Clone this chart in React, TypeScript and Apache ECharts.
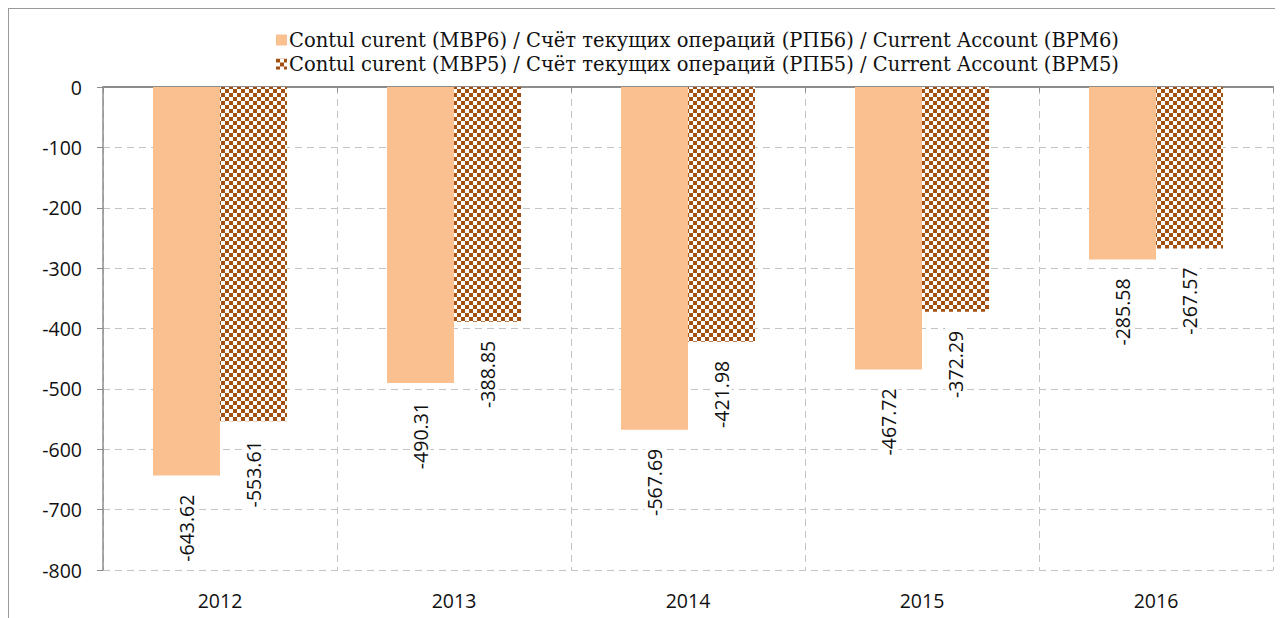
import React, { useEffect, useRef } from "react";
import * as echarts from "echarts";

const years = ["2012", "2013", "2014", "2015", "2016"];
const bpm6 = [-643.62, -490.31, -567.69, -467.72, -285.58];
const bpm5 = [-553.61, -388.85, -421.98, -372.29, -267.57];
const seriesNames = [
  "Contul curent (MBP6) / Счёт текущих операций (РПБ6) / Current Account (BPM6)",
  "Contul curent (MBP5) / Счёт текущих операций (РПБ5) / Current Account (BPM5)",
];
const yMin = -800;
const yMax = 0;
const yStep = 100;

const SANS = "'Open Sans', sans-serif";
const SERIF = "'DejaVu Serif', serif";

function makeChecker(): HTMLCanvasElement {
  const c = document.createElement("canvas");
  c.width = 8;
  c.height = 8;
  const ctx = c.getContext("2d")!;
  ctx.fillStyle = "#ffffff";
  ctx.fillRect(0, 0, 8, 8);
  ctx.fillStyle = "#a24f12";
  ctx.fillRect(0, 0, 4, 4);
  ctx.fillRect(4, 4, 4, 4);
  return c;
}

export default function App() {
  const ref = useRef<HTMLDivElement>(null);
  useEffect(() => {
    document.body.style.overflow = "hidden";
    document.documentElement.style.overflow = "hidden";
    const chart = echarts.init(ref.current!, null, { renderer: "svg" });
    const checker = { image: makeChecker(), repeat: "repeat" } as any;
    const labelCfg = {
      show: true,
      position: "bottom",
      rotate: 90,
      align: "right",
      verticalAlign: "middle",
      distance: 16,
      color: "#111",
      fontFamily: SANS,
      fontSize: 19.5,
      backgroundColor: "#ffffff",
      padding: [0, 3],
      formatter: (p: any) => p.value.toFixed(2),
    };
    chart.setOption({
      animation: false,
      legend: {
        orient: "vertical",
        left: 262,
        top: 16,
        itemWidth: 11,
        itemHeight: 11,
        itemGap: 4,
        icon: "rect",
        textStyle: { fontFamily: SERIF, fontSize: 19.5, color: "#111", padding: [0, 0, 0, -3] },
        data: seriesNames,
      },
      grid: { left: 94, top: 78, width: 1170, height: 483 },
      xAxis: [
        {
          type: "category",
          data: years,
          position: "bottom",
          axisLine: { show: false, onZero: false },
          axisTick: { show: false },
          axisLabel: { margin: 20, fontFamily: SANS, fontSize: 19.5, color: "#111" },
          splitLine: { show: true, lineStyle: { color: "#c4c4c4", type: [7, 5], width: 1 } },
        },
        {
          type: "category",
          data: years,
          position: "top",
          axisLine: { show: true, onZero: false, lineStyle: { color: "#8c8c8c", width: 2 } },
          axisTick: { show: true, inside: true, length: 5, lineStyle: { color: "#8c8c8c" } },
          axisLabel: { show: false },
          splitLine: { show: false },
        },
      ],
      yAxis: {
        type: "value",
        min: yMin,
        max: yMax,
        interval: yStep,
        axisLine: { show: true, lineStyle: { color: "#8c8c8c", width: 1.5 } },
        axisTick: { show: true, length: 6, lineStyle: { color: "#8c8c8c" } },
        axisLabel: { margin: 21, fontFamily: SANS, fontSize: 19.5, color: "#111" },
        splitLine: { show: true, lineStyle: { color: "#c4c4c4", type: [7, 5], width: 1 } },
      },
      series: [
        {
          name: seriesNames[0],
          type: "bar",
          data: bpm6,
          barWidth: 67,
          barGap: "0%",
          itemStyle: { color: "#fac090" },
          label: labelCfg,
        },
        {
          name: seriesNames[1],
          type: "bar",
          data: bpm5,
          barWidth: 67,
          barGap: "0%",
          itemStyle: { color: checker },
          label: labelCfg,
        },
      ],
    });
    return () => chart.dispose();
  }, []);
  return (
    <div
      style={{
        width: 1276,
        height: 611,
        borderLeft: "1px solid #9a9a9a",
        borderTop: "1px solid #9a9a9a",
        boxSizing: "border-box",
      }}
    >
      <div ref={ref} style={{ width: 1275, height: 610 }} />
    </div>
  );
}
